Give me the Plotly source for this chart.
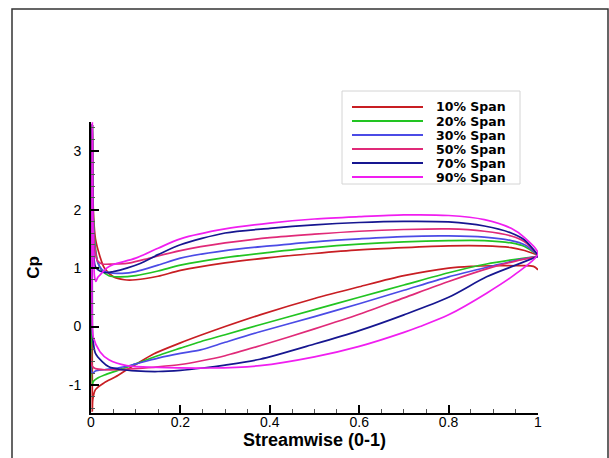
import plotly.graph_objects as go

# ---------------- data ----------------
span_labels = ["10% Span", "20% Span", "30% Span", "50% Span", "70% Span", "90% Span"]

x10_up = [0.003, 0.004, 0.006, 0.01, 0.02, 0.03, 0.05, 0.075, 0.1, 0.15, 0.2, 0.3, 0.4, 0.5, 0.6, 0.7, 0.8, 0.88, 0.94, 0.97, 1.0]
cp10_up = [3.45, 2.4, 1.85, 1.5, 1.2, 1.0, 0.85, 0.8, 0.8, 0.86, 0.96, 1.09, 1.18, 1.25, 1.31, 1.35, 1.38, 1.38, 1.35, 1.3, 1.22]
x10_lo = [0.003, 0.004, 0.01, 0.03, 0.055, 0.08, 0.1, 0.14, 0.2, 0.245, 0.3, 0.378, 0.5, 0.6, 0.7, 0.8, 0.85, 0.9, 0.95, 0.99, 1.0]
cp10_lo = [-1.45, -1.25, -1.08, -0.96, -0.86, -0.74, -0.65, -0.47, -0.28, -0.15, 0.0, 0.2, 0.48, 0.68, 0.87, 1.0, 1.03, 1.04, 1.04, 1.03, 0.97]

x20_up = [0.003, 0.004, 0.008, 0.015, 0.025, 0.04, 0.06, 0.1, 0.15, 0.2, 0.3, 0.4, 0.5, 0.6, 0.7, 0.8, 0.88, 0.94, 0.97, 1.0]
cp20_up = [3.45, 2.2, 1.5, 1.1, 0.95, 0.87, 0.85, 0.87, 0.95, 1.05, 1.18, 1.27, 1.35, 1.41, 1.45, 1.47, 1.47, 1.43, 1.37, 1.22]
x20_lo = [0.003, 0.005, 0.015, 0.03, 0.06, 0.1, 0.16, 0.2, 0.245, 0.3, 0.378, 0.5, 0.6, 0.7, 0.8, 0.885, 0.95, 1.0]
cp20_lo = [-1.0, -0.94, -0.88, -0.83, -0.75, -0.64, -0.47, -0.37, -0.26, -0.14, 0.03, 0.29, 0.5, 0.71, 0.92, 1.07, 1.15, 1.2]

x30_up = [0.003, 0.004, 0.008, 0.015, 0.025, 0.04, 0.07, 0.1, 0.15, 0.2, 0.3, 0.4, 0.5, 0.6, 0.7, 0.8, 0.88, 0.94, 0.97, 1.0]
cp30_up = [3.45, 2.1, 1.4, 1.1, 0.97, 0.92, 0.91, 0.94, 1.05, 1.17, 1.3, 1.38, 1.45, 1.5, 1.54, 1.55, 1.53, 1.47, 1.4, 1.22]
x30_lo = [0.003, 0.01, 0.03, 0.05, 0.08, 0.1, 0.15, 0.2, 0.245, 0.3, 0.378, 0.5, 0.6, 0.7, 0.8, 0.9, 0.95, 1.0]
cp30_lo = [-0.8, -0.76, -0.74, -0.72, -0.68, -0.64, -0.54, -0.46, -0.4, -0.27, -0.09, 0.17, 0.39, 0.62, 0.85, 1.04, 1.13, 1.2]

x50_up = [0.003, 0.004, 0.008, 0.015, 0.025, 0.05, 0.08, 0.12, 0.2, 0.3, 0.4, 0.5, 0.6, 0.7, 0.8, 0.88, 0.94, 0.97, 1.0]
cp50_up = [3.45, 2.0, 1.35, 1.12, 1.07, 1.07, 1.08, 1.15, 1.3, 1.43, 1.52, 1.58, 1.63, 1.66, 1.67, 1.63, 1.55, 1.45, 1.22]
x50_lo = [0.003, 0.01, 0.03, 0.06, 0.1, 0.15, 0.2, 0.245, 0.3, 0.378, 0.5, 0.6, 0.7, 0.8, 0.9, 0.95, 1.0]
cp50_lo = [-0.68, -0.72, -0.74, -0.74, -0.72, -0.69, -0.65, -0.59, -0.5, -0.33, -0.04, 0.21, 0.49, 0.77, 1.02, 1.12, 1.2]

x70_up = [0.003, 0.004, 0.006, 0.01, 0.02, 0.035, 0.05, 0.08, 0.11, 0.15, 0.2, 0.3, 0.4, 0.5, 0.6, 0.7, 0.8, 0.88, 0.94, 0.97, 1.0]
cp70_up = [3.45, 1.8, 1.25, 1.02, 0.95, 0.92, 0.94, 1.0, 1.08, 1.23, 1.4, 1.6, 1.68, 1.74, 1.78, 1.8, 1.79, 1.72, 1.6, 1.48, 1.22]
x70_lo = [0.003, 0.004, 0.01, 0.025, 0.04, 0.07, 0.1, 0.15, 0.2, 0.25, 0.3, 0.378, 0.5, 0.6, 0.7, 0.8, 0.885, 0.95, 1.0]
cp70_lo = [-0.05, -0.2, -0.46, -0.6, -0.69, -0.74, -0.76, -0.77, -0.75, -0.71, -0.66, -0.56, -0.3, -0.07, 0.2, 0.5, 0.85, 1.05, 1.2]

x90_up = [0.003, 0.004, 0.006, 0.008, 0.011, 0.015, 0.02, 0.035, 0.05, 0.1, 0.15, 0.2, 0.3, 0.4, 0.5, 0.6, 0.7, 0.8, 0.88, 0.94, 0.97, 1.0]
cp90_up = [3.5, 2.0, 1.2, 0.85, 0.77, 0.84, 0.88, 1.0, 1.06, 1.17, 1.34, 1.5, 1.67, 1.77, 1.84, 1.88, 1.91, 1.9, 1.83, 1.68, 1.52, 1.25]
x90_lo = [0.003, 0.005, 0.02, 0.04, 0.08, 0.15, 0.266, 0.378, 0.5, 0.6, 0.7, 0.736, 0.8, 0.885, 0.95, 1.0]
cp90_lo = [0.0, -0.18, -0.43, -0.57, -0.67, -0.7, -0.71, -0.67, -0.52, -0.34, -0.1, 0.0, 0.2, 0.57, 0.9, 1.25]

x_tick_vals = [0, 0.2, 0.4, 0.6, 0.8, 1]
x_tick_text = ["0", "0.2", "0.4", "0.6", "0.8", "1"]
y_tick_vals = [-1, 0, 1, 2, 3]
y_tick_text = ["-1", "0", "1", "2", "3"]

# ---------------- style ----------------
colors = ["#c81e23", "#22c422", "#4b4be6", "#e02a78", "#161690", "#f01ef0"]
series = [
    (x10_up, cp10_up, x10_lo, cp10_lo),
    (x20_up, cp20_up, x20_lo, cp20_lo),
    (x30_up, cp30_up, x30_lo, cp30_lo),
    (x50_up, cp50_up, x50_lo, cp50_lo),
    (x70_up, cp70_up, x70_lo, cp70_lo),
    (x90_up, cp90_up, x90_lo, cp90_lo),
]

W, H = 609, 458
L, R, T, B = 91, 538, 122, 413  # plot area in px


def px(xp):
    return (xp - L) / (R - L)


def py(yp):
    return (B - yp) / (B - T)


fig = go.Figure()
for (xu, cu, xl, cl), name, col in zip(series, span_labels, colors):
    fig.add_trace(go.Scatter(
        x=list(reversed(xu)) + list(xl),
        y=list(reversed(cu)) + list(cl),
        mode="lines", name=name, showlegend=False,
        line=dict(color=col, width=1.7, shape="spline", smoothing=0.8),
    ))

font_family = "Liberation Sans, Arial, sans-serif"
legend_font = "DejaVu Sans, Liberation Sans, sans-serif"

shapes = [
    # outer frame
    dict(type="rect", xref="paper", yref="paper",
         x0=px(12), x1=px(608), y0=py(470), y1=py(9),
         line=dict(color="#333333", width=1.5), fillcolor="rgba(0,0,0,0)", layer="below"),
    # legend box
    dict(type="rect", xref="paper", yref="paper",
         x0=px(342), x1=px(520), y0=py(184), y1=py(91),
         line=dict(color="#d4d4d4", width=1), fillcolor="white", layer="below"),
]
annotations = []
row_y = [107, 121, 135, 149, 163, 177]
for name, col, ry in zip(span_labels, colors, row_y):
    shapes.append(dict(type="line", xref="paper", yref="paper",
                       x0=px(352), x1=px(423), y0=py(ry), y1=py(ry),
                       line=dict(color=col, width=2)))
    annotations.append(dict(xref="paper", yref="paper", x=px(435), y=py(ry),
                            xanchor="left", yanchor="middle", showarrow=False,
                            borderpad=0,
                            text="<b>%s</b>" % name,
                            font=dict(family=legend_font, size=12.5, color="black")))

fig.update_layout(
    width=W, height=H,
    margin=dict(l=L, r=W - R, t=T, b=H - B, pad=0),
    paper_bgcolor="white", plot_bgcolor="white",
    shapes=shapes, annotations=annotations,
    font=dict(family=font_family, size=14, color="black"),
    xaxis=dict(
        range=[0, 1], tickvals=x_tick_vals, ticktext=x_tick_text,
        ticks="inside", ticklen=8, tickwidth=2, tickcolor="black",
        showline=True, linewidth=2, linecolor="black", mirror=False,
        showgrid=False, zeroline=False, automargin=False,
        minor=dict(ticks="inside", ticklen=4, tickwidth=1, tickcolor="#555555", dtick=0.05, tick0=0, showgrid=False),
        tickfont=dict(size=14), ticklabelstandoff=-5,
        title=dict(text="Streamwise (0-1)", font=dict(size=18, weight="bold"), standoff=0),
    ),
    yaxis=dict(
        range=[-1.48, 3.5], tickvals=y_tick_vals, ticktext=y_tick_text,
        ticks="inside", ticklen=8, tickwidth=2, tickcolor="black",
        showline=True, linewidth=2, linecolor="black", mirror=False,
        showgrid=False, zeroline=False, automargin=False,
        minor=dict(ticks="inside", ticklen=4, tickwidth=1, tickcolor="#555555", dtick=0.2, tick0=0, showgrid=False),
        tickfont=dict(size=14), ticklabelstandoff=5,
        title=dict(text="Cp", font=dict(size=17, weight="bold"), standoff=25),
    ),
)

fig.write_html("out.html")
